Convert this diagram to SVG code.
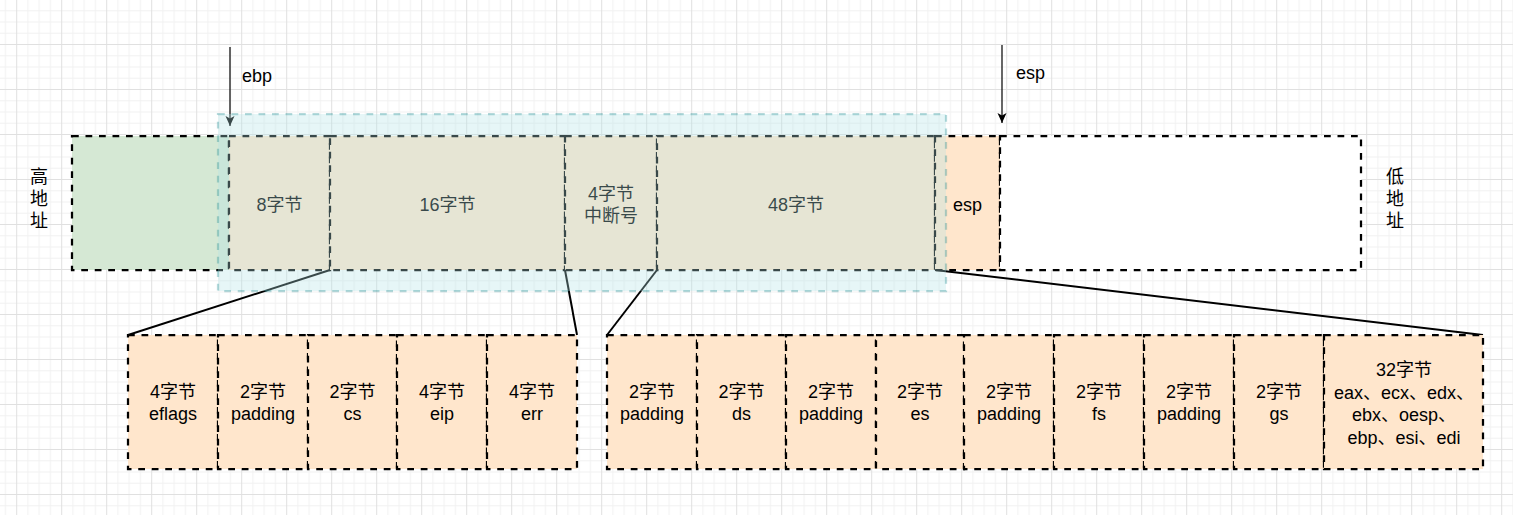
<svg xmlns="http://www.w3.org/2000/svg" width="1513" height="515" viewBox="0 0 1513 515">
<style>
  text { font-family: "Liberation Sans", "Noto Sans CJK SC", sans-serif; font-size: 18px; fill: #000; }
  .c { text-anchor: middle; }
  .box { stroke: #000; stroke-width: 2.25; stroke-dasharray: 6.75 6.75; }
  .or { fill: #ffe6cc; }
  .gr { fill: #d5e8d4; }
  .wh { fill: #ffffff; }
  .link { stroke: #000; stroke-width: 2; fill: none; }
  .ptr { stroke: #000; stroke-width: 1.2; fill: none; marker-end: url(#arr); }
</style>
<defs>
  <pattern id="grid" patternUnits="userSpaceOnUse" x="16.2" y="-1" width="45" height="45">
    <rect x="0" y="0" width="45" height="45" fill="#ffffff"/>
    <rect x="11.25" y="0" width="1" height="45" fill="#f2f2f2"/>
    <rect x="22.5" y="0" width="1" height="45" fill="#f2f2f2"/>
    <rect x="33.75" y="0" width="1" height="45" fill="#f2f2f2"/>
    <rect x="0" y="11.25" width="45" height="1" fill="#f2f2f2"/>
    <rect x="0" y="22.5" width="45" height="1" fill="#f2f2f2"/>
    <rect x="0" y="33.75" width="45" height="1" fill="#f2f2f2"/>
    <rect x="0" y="0" width="1" height="45" fill="#e0e0e0"/>
    <rect x="0" y="0" width="45" height="1" fill="#e0e0e0"/>
  </pattern>
  <marker id="arr" markerUnits="userSpaceOnUse" markerWidth="12" markerHeight="12" refX="10" refY="5" orient="auto">
    <path d="M0,0.5 L10,5 L0,9.5 L2.5,5 Z" fill="#000"/>
  </marker>
</defs>
<rect x="0" y="0" width="1513" height="515" fill="url(#grid)"/>

<g id="label-high">
  <text class="c" x="39" y="183">高</text>
  <text class="c" x="39" y="205">地</text>
  <text class="c" x="39" y="227">址</text>
</g>
<g id="label-low">
  <text class="c" x="1395" y="183">低</text>
  <text class="c" x="1395" y="205">地</text>
  <text class="c" x="1395" y="227">址</text>
</g>

<g id="upper-frame">
  <rect class="box gr" x="72" y="136" width="157" height="134"/>
</g>
<g id="n-8bytes">
  <rect class="box or" x="229" y="136" width="101" height="134"/>
  <text class="c" x="279.5" y="210.5">8字节</text>
</g>
<g id="n-16bytes">
  <rect class="box or" x="330" y="136" width="235" height="134"/>
  <text class="c" x="447.5" y="210.5">16字节</text>
</g>
<g id="n-intno">
  <rect class="box or" x="565" y="136" width="92" height="134"/>
  <text class="c" x="611" y="199.5">4字节</text>
  <text class="c" x="611" y="221.5">中断号</text>
</g>
<g id="n-48bytes">
  <rect class="box or" x="657" y="136" width="278" height="134"/>
  <text class="c" x="796" y="210.5">48字节</text>
</g>
<g id="n-esp">
  <rect class="box or" x="935" y="136" width="65" height="134"/>
  <text class="c" x="967.5" y="210.5">esp</text>
</g>
<g id="n-free">
  <rect class="box wh" x="1000" y="136" width="361" height="134"/>
</g>

<g id="connectors">
  <line class="link" x1="330" y1="270" x2="128" y2="335"/>
  <line class="link" x1="565" y1="270" x2="577" y2="335"/>
  <line class="link" x1="657" y1="270" x2="607" y2="335"/>
  <line class="link" x1="935" y1="270" x2="1483" y2="335"/>
  <line class="ptr" x1="230" y1="47" x2="230" y2="126"/>
  <line class="ptr" x1="1002" y1="45" x2="1002" y2="123"/>
</g>

<g id="trapframe-overlay">
  <rect x="218" y="114" width="728" height="177" fill="#b0e3e6" fill-opacity="0.32" stroke="#0e8088" stroke-opacity="0.3" stroke-width="2.25" stroke-dasharray="6.75 6.75"/>
</g>

<g id="ptr-labels">
  <text x="242" y="82">ebp</text>
  <text x="1016" y="79">esp</text>
</g>

<g id="n-eflags">
  <rect class="box or" x="128" y="335" width="90" height="134"/>
  <text class="c" x="173" y="398">4字节</text>
  <text class="c" x="173" y="420">eflags</text>
</g>
<g id="n-pad1">
  <rect class="box or" x="218" y="335" width="90" height="134"/>
  <text class="c" x="263" y="398">2字节</text>
  <text class="c" x="263" y="420">padding</text>
</g>
<g id="n-cs">
  <rect class="box or" x="308" y="335" width="89" height="134"/>
  <text class="c" x="352.5" y="398">2字节</text>
  <text class="c" x="352.5" y="420">cs</text>
</g>
<g id="n-eip">
  <rect class="box or" x="397" y="335" width="90" height="134"/>
  <text class="c" x="442" y="398">4字节</text>
  <text class="c" x="442" y="420">eip</text>
</g>
<g id="n-err">
  <rect class="box or" x="487" y="335" width="90" height="134"/>
  <text class="c" x="532" y="398">4字节</text>
  <text class="c" x="532" y="420">err</text>
</g>

<g id="n-pad2">
  <rect class="box or" x="607" y="335" width="90" height="134"/>
  <text class="c" x="652" y="398">2字节</text>
  <text class="c" x="652" y="420">padding</text>
</g>
<g id="n-ds">
  <rect class="box or" x="697" y="335" width="89" height="134"/>
  <text class="c" x="741.5" y="398">2字节</text>
  <text class="c" x="741.5" y="420">ds</text>
</g>
<g id="n-pad3">
  <rect class="box or" x="786" y="335" width="90" height="134"/>
  <text class="c" x="831" y="398">2字节</text>
  <text class="c" x="831" y="420">padding</text>
</g>
<g id="n-es">
  <rect class="box or" x="876" y="335" width="88" height="134"/>
  <text class="c" x="920" y="398">2字节</text>
  <text class="c" x="920" y="420">es</text>
</g>
<g id="n-pad4">
  <rect class="box or" x="964" y="335" width="90" height="134"/>
  <text class="c" x="1009" y="398">2字节</text>
  <text class="c" x="1009" y="420">padding</text>
</g>
<g id="n-fs">
  <rect class="box or" x="1054" y="335" width="90" height="134"/>
  <text class="c" x="1099" y="398">2字节</text>
  <text class="c" x="1099" y="420">fs</text>
</g>
<g id="n-pad5">
  <rect class="box or" x="1144" y="335" width="90" height="134"/>
  <text class="c" x="1189" y="398">2字节</text>
  <text class="c" x="1189" y="420">padding</text>
</g>
<g id="n-gs">
  <rect class="box or" x="1234" y="335" width="90" height="134"/>
  <text class="c" x="1279" y="398">2字节</text>
  <text class="c" x="1279" y="420">gs</text>
</g>
<g id="n-regs">
  <rect class="box or" x="1324" y="335" width="159" height="134"/>
  <text class="c" x="1404" y="376">32字节</text>
  <text class="c" x="1404" y="398.5">eax、ecx、edx、</text>
  <text class="c" x="1404" y="421">ebx、oesp、</text>
  <text class="c" x="1404" y="443.5">ebp、esi、edi</text>
</g>
</svg>
